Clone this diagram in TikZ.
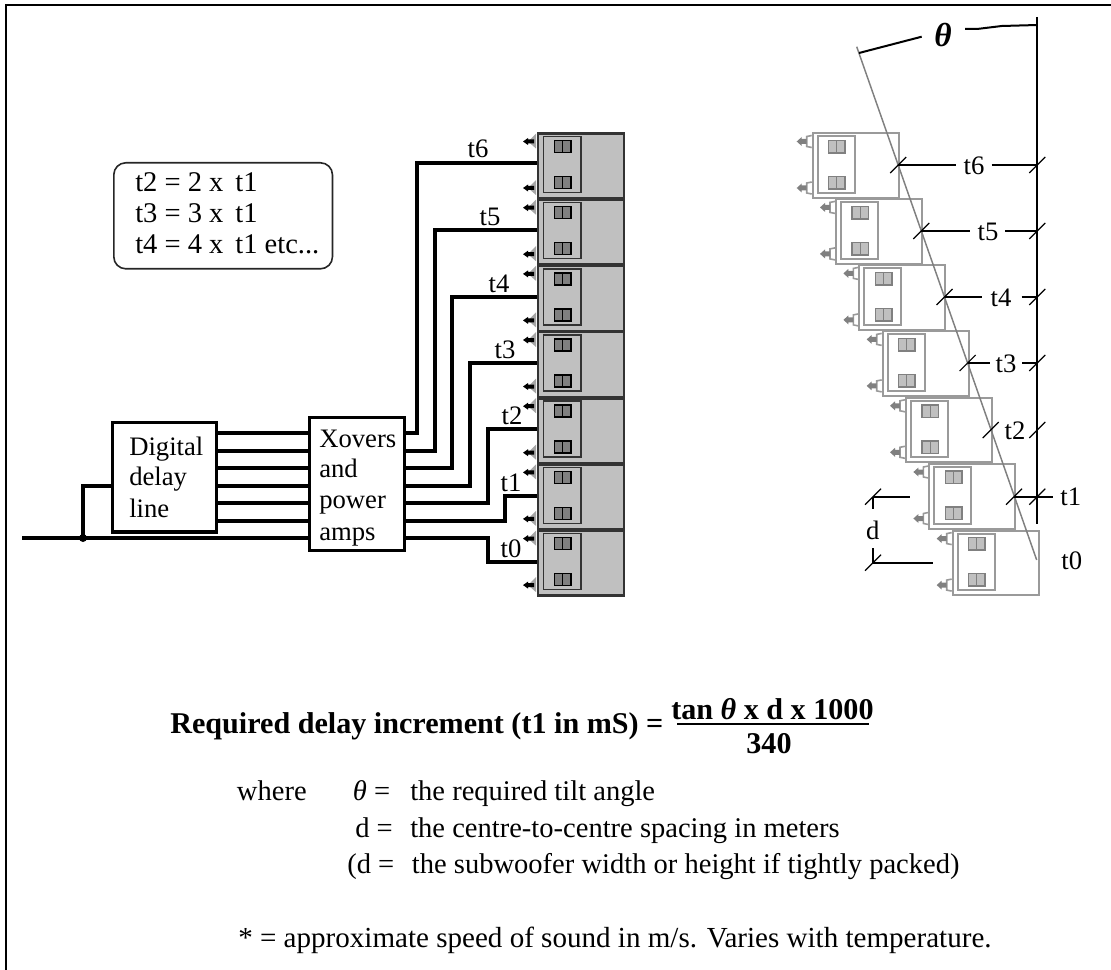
\documentclass[tikz,border=0pt]{standalone}
\usepackage{fontspec}
\setmainfont{Liberation Serif}
\definecolor{cabfill}{HTML}{C0C0C0}
\definecolor{drv}{HTML}{808080}
\definecolor{outl}{HTML}{9A9A9A}
\tikzset{
  x=0.75pt,y=-0.75pt,
  sigline/.style={draw=black,line width=2.6pt,line join=miter},
  lab/.style={inner sep=0pt,anchor=center,font=\fontsize{20}{24}\selectfont},
  txt/.style={inner sep=0pt,anchor=base west,font=\fontsize{20}{24}\selectfont},
  body/.style={inner sep=0pt,anchor=base west,font=\fontsize{21.4}{26}\selectfont},
  boldf/.style={inner sep=0pt,font=\fontsize{22.6}{27}\selectfont\bfseries},
  blk/.style={draw=black,line width=2.4pt,fill=white,inner sep=0pt},
  tick/.style={draw=black,line width=0.9pt},
  dimline/.style={draw=black,line width=1.5pt},
}
% solid cabinet, left stack
\newcommand{\solidcab}[3]{% name, x, y
  \node[draw=black!80,line width=1.8pt,fill=cabfill,minimum width=64.5pt,minimum height=48.5pt,inner sep=0pt,anchor=north west] (#1) at (#2,#3) {};
  \begin{scope}[shift={(#2,#3)}]
    \draw[draw=black!80,line width=1.2pt] (6.5,4) rectangle (44,60);
    \foreach \dy in {8,44}{
      \draw[draw=black,line width=1.1pt,fill=drv] (17.5,\dy) rectangle (34,\dy+12);
      \draw[draw=black,line width=1pt] (25.7,\dy) -- (25.7,\dy+12);
    }
    \foreach \dy in {9,55.5}{
      \fill[black!35] (-1,\dy-8) -- (-1,\dy+7) -- (-9,\dy) -- cycle;
      \fill[black] (-14,\dy) -- (-9,\dy-3.5) -- (-9,\dy-2) -- (-3,\dy-2) -- (-3,\dy+2) -- (-9,\dy+2) -- (-9,\dy+3.5) -- cycle;
    }
  \end{scope}
}
% outline cabinet, right stack
\newcommand{\linecab}[3]{% name, x, y
  \node[draw=outl,line width=1.5pt,fill=white,minimum width=64.5pt,minimum height=48.5pt,inner sep=0pt,anchor=north west] (#1) at (#2,#3) {};
  \begin{scope}[shift={(#2,#3)}]
    \draw[draw=outl,line width=1.5pt] (6,4) rectangle (43,60.5);
    \foreach \dy in {8,44}{
      \draw[draw=drv,line width=1.1pt,fill=cabfill] (17,\dy) rectangle (33.5,\dy+12.5);
      \draw[draw=drv,line width=0.8pt] (25.2,\dy) -- (25.2,\dy+12.5);
    }
    \foreach \dy in {9,55.5}{
      \draw[draw=outl,line width=1.2pt] (0,\dy-6) -- (-5,\dy-5) -- (-5,\dy+5) -- (0,\dy+6);
      \fill[drv] (-15,\dy) -- (-10,\dy-4.5) -- (-10,\dy-2.5) -- (-5,\dy-2.5) -- (-5,\dy+2.5) -- (-10,\dy+2.5) -- (-10,\dy+4.5) -- cycle;
    }
  \end{scope}
}
\begin{document}
\begin{tikzpicture}
\useasboundingbox (0,0) rectangle (1111,970);
% frame
\coordinate (ftl) at (6,5);
\coordinate (ftr) at (1111,5);
\coordinate (fbl) at (6,970);
\draw[draw=black,line width=1.8pt] (fbl) -- (ftl) -- (ftr);

% note box
\node[draw=black!85,line width=1.2pt,rounded corners=9pt,minimum width=164pt,minimum height=79.5pt,inner sep=0pt,anchor=north west] (note) at (113,162) {};
\node[body] (n1) at (135,192) {t2 = 2 x\, t1};
\node[body] (n2) at (135,223) {t3 = 3 x\, t1};
\node[body] (n3) at (135,253) {t4 = 4 x\, t1 etc...};

% left stack
\foreach \i/\yy in {6/132.5,5/198.7,4/264.9,3/331,2/397.2,1/463.4,0/529.6}{
  \solidcab{a\i}{537}{\yy}
}

% blocks
\node[blk,minimum width=78pt,minimum height=82pt,anchor=north west] (dd) at (111,421) {};
\node[blk,minimum width=71pt,minimum height=99.5pt,anchor=north west] (xo) at (308,416) {};
\node[txt] (ddt1) at (129,455) {Digital};
\node[txt] (ddt2) at (129,485) {delay};
\node[txt] (ddt3) at (129,517) {line};
\node[txt] (xot1) at (319,447) {Xovers};
\node[txt] (xot2) at (319,477) {and};
\node[txt] (xot3) at (319,508) {power};
\node[txt] (xot4) at (319,540) {amps};

% delay line to xovers
\foreach \yy in {433,451,468,486,503,521}{
  \draw[sigline] (dd.east |- 0,\yy) -- (xo.west |- 0,\yy);
}
% input
\coordinate (in) at (22,538);
\coordinate (jn) at (83,538);
\draw[sigline] (in) -- (xo.west |- in);
\draw[sigline] (jn) -- (83,486) -- (dd.west |- 0,486);
\fill[black] (jn) circle (4);

% outputs
\draw[sigline] (xo.east |- 0,433) -- (417,433) -- (417,163) -- (a6.west |- 0,163);
\draw[sigline] (xo.east |- 0,451) -- (435,451) -- (435,230) -- (a5.west |- 0,230);
\draw[sigline] (xo.east |- 0,468) -- (452,468) -- (452,297) -- (a4.west |- 0,297);
\draw[sigline] (xo.east |- 0,486) -- (470,486) -- (470,363) -- (a3.west |- 0,363);
\draw[sigline] (xo.east |- 0,503) -- (488,503) -- (488,429) -- (a2.west |- 0,429);
\draw[sigline] (xo.east |- 0,521) -- (505,521) -- (505,496) -- (a1.west |- 0,496);
\draw[sigline] (xo.east |- 0,538) -- (488,538) -- (488,562) -- (a0.west |- 0,562);
\node[lab] (lt6) at (478,149) {t6};
\node[lab] (lt5) at (490,217) {t5};
\node[lab] (lt4) at (499,284) {t4};
\node[lab] (lt3) at (505,350) {t3};
\node[lab] (lt2) at (512,416) {t2};
\node[lab] (lt1) at (511,483) {t1};
\node[lab] (lt0) at (511,549) {t0};

% right stack
\foreach \i/\xx/\yy in {6/811.7/132.5,5/835/198.4,4/858.4/264.4,3/881.7/330.4,2/905/396.8,1/928.4/463,0/951.7/529.6}{
  \linecab{b\i}{\xx}{\yy}
}
% tilt line and vertical reference
\coordinate (tiltA) at (856.7,46.7);
\coordinate (tiltB) at (1036.7,560);
\coordinate (vA) at (1037.3,17);
\coordinate (vB) at (1037.3,524);
\draw[draw=drv,line width=1.1pt] (tiltA) -- (tiltB);
\draw[draw=black,line width=1.6pt] (vA) -- (vB);
% theta
\node[inner sep=0pt,font=\fontsize{25}{28}\selectfont\bfseries\itshape] (th) at (943,35) {θ};
\draw[dimline] (859,53) -- (921.7,36.7);
\draw[dimline] (965,29) -- (977,29) -- (1001.7,26) -- (vA |- 0,25);

% dimension lines
\foreach \n/\yy/\lx/\xa/\xb/\xc in {6/165/974/898.2/956/991.5,5/231/988/921.3/970/1005,4/297/1001/944.5/981.7/1021.5,3/363/1006/967.6/990/1022}{
  \node[lab] (r\n) at (\lx,\yy+1) {t\n};
  \coordinate (p\n) at (\xa,\yy);
  \coordinate (q\n) at (1037.3,\yy);
  \draw[dimline] (p\n) -- (\xb,\yy);
  \draw[dimline] (\xc,\yy) -- (q\n);
}
\foreach \n/\xa/\yy in {6/898.2/165,5/921.3/231,4/944.5/297,3/967.6/363,2/990.7/430,1/1014/496.7}{
  \coordinate (s\n) at (\xa,\yy);
  \coordinate (u\n) at (1037.3,\yy);
  \draw[tick] ([xshift=-6pt,yshift=-6pt]s\n) -- ([xshift=6pt,yshift=6pt]s\n);
  \draw[tick] ([xshift=-6pt,yshift=-6pt]u\n) -- ([xshift=6pt,yshift=6pt]u\n);
}
\node[lab] (r2) at (1015,431) {t2};
\coordinate (p1) at (1014,496.7);
\coordinate (q1) at (1053,496.7);
\draw[dimline] (p1) -- (q1);
\node[lab] (r1) at (1070.7,497) {t1};
\node[lab] (r0) at (1071.7,561) {t0};

% d dimension
\coordinate (d1) at (873,496.7);
\coordinate (d2) at (873,562.7);
\draw[dimline] (d1) -- (910,496.7);
\draw[dimline] (d1) -- (873,509);
\draw[dimline] (d2) -- (933,562.7);
\draw[dimline] (d2) -- (873,548);
\draw[tick] ([xshift=-6pt,yshift=-6pt]d1) -- ([xshift=6pt,yshift=6pt]d1);
\draw[tick] ([xshift=-6pt,yshift=-6pt]d2) -- ([xshift=6pt,yshift=6pt]d2);
\node[lab] (dl) at (872.7,530) {d};

% formula
\node[boldf,anchor=base west] (f1) at (170,733) {Required delay increment (t1 in mS) =};
\node[boldf,anchor=base west] (f2) at (671,719) {tan \textit{θ} x d x 1000};
\coordinate (r1a) at (677,724);
\coordinate (r1b) at (869,724);
\draw[draw=black,line width=1.5pt] (r1a) -- (r1b);
\node[boldf,anchor=base] (f3) at (769,753) {340};

\node[body] (w0) at (236.7,800) {where};
\node[body] (w1) at (352.7,800) {\textit{θ} =};
\node[body] (w1b) at (410,800) {the required tilt angle};
\node[body] (w2) at (355,837) {d =};
\node[body] (w2b) at (410,837) {the centre-to-centre spacing in meters};
\node[body] (w3) at (347,873) {(d =};
\node[body] (w3b) at (411.7,873) {the subwoofer width or height if tightly packed)};
\node[body,font=\fontsize{21.8}{26}\selectfont] (w4) at (238,947) {* = approximate speed of sound in m/s. Varies with temperature.};
\end{tikzpicture}
\end{document}
